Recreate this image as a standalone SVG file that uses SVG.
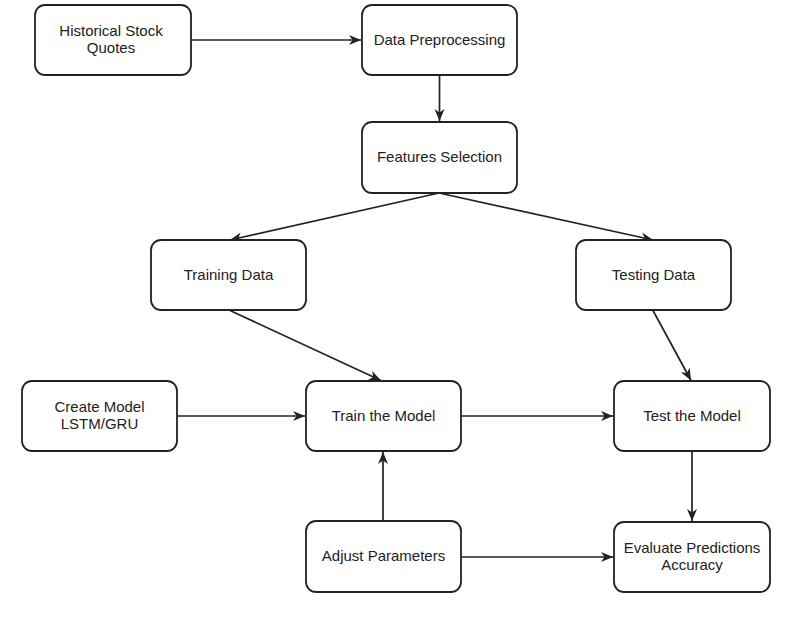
<svg xmlns="http://www.w3.org/2000/svg" width="795" height="621" viewBox="0 0 795 621">
<style>
.box{fill:#fff;stroke:#222;stroke-width:1.8}
.lbl{font-family:"Liberation Sans",Arial,sans-serif;font-size:15px;fill:#222;text-anchor:middle}
.edge{fill:none;stroke:#222;stroke-width:1.7}
</style>
<defs>
<marker id="arr" markerUnits="userSpaceOnUse" markerWidth="13" markerHeight="12" refX="12" refY="6" orient="auto">
<path d="M0,1 L12,6 L0,11 L3.5,6 Z" fill="#222"/>
</marker>
</defs>
<rect width="795" height="621" fill="#fff"/>
<g id="connectors">
<line class="edge" x1="191" y1="40" x2="361" y2="40" marker-end="url(#arr)"/>
<line class="edge" x1="439.5" y1="75" x2="439.5" y2="121" marker-end="url(#arr)"/>
<line class="edge" x1="439" y1="193" x2="230" y2="240" marker-end="url(#arr)"/>
<line class="edge" x1="439" y1="193" x2="653" y2="240" marker-end="url(#arr)"/>
<line class="edge" x1="230" y1="310.5" x2="381" y2="380.5" marker-end="url(#arr)"/>
<line class="edge" x1="653" y1="310.5" x2="691" y2="380.5" marker-end="url(#arr)"/>
<line class="edge" x1="177" y1="416" x2="305" y2="416" marker-end="url(#arr)"/>
<line class="edge" x1="461" y1="416" x2="613" y2="416" marker-end="url(#arr)"/>
<line class="edge" x1="383" y1="521" x2="383" y2="452" marker-end="url(#arr)"/>
<line class="edge" x1="461" y1="557" x2="613" y2="557" marker-end="url(#arr)"/>
<line class="edge" x1="692" y1="451" x2="692" y2="521" marker-end="url(#arr)"/>
</g>
<g id="historical">
<rect class="box" x="35" y="5" width="156" height="70" rx="10"/>
<text class="lbl" x="111" y="36">Historical Stock</text>
<text class="lbl" x="111" y="53">Quotes</text>
</g>
<g id="preprocessing">
<rect class="box" x="362" y="5" width="155" height="70" rx="10"/>
<text class="lbl" x="439.5" y="45">Data Preprocessing</text>
</g>
<g id="features">
<rect class="box" x="362" y="122" width="155" height="71" rx="10"/>
<text class="lbl" x="439.5" y="162">Features Selection</text>
</g>
<g id="training">
<rect class="box" x="151" y="240" width="155" height="70" rx="10"/>
<text class="lbl" x="228.5" y="280">Training Data</text>
</g>
<g id="testing">
<rect class="box" x="576" y="240" width="155" height="70" rx="10"/>
<text class="lbl" x="653.5" y="280">Testing Data</text>
</g>
<g id="create">
<rect class="box" x="22" y="381" width="155" height="70" rx="10"/>
<text class="lbl" x="99.5" y="412">Create Model</text>
<text class="lbl" x="99.5" y="429">LSTM/GRU</text>
</g>
<g id="train">
<rect class="box" x="306" y="381" width="155" height="70" rx="10"/>
<text class="lbl" x="383.5" y="421">Train the Model</text>
</g>
<g id="test">
<rect class="box" x="614" y="381" width="156" height="70" rx="10"/>
<text class="lbl" x="692" y="421">Test the Model</text>
</g>
<g id="adjust">
<rect class="box" x="306" y="521" width="155" height="71" rx="10"/>
<text class="lbl" x="383.5" y="561">Adjust Parameters</text>
</g>
<g id="evaluate">
<rect class="box" x="614" y="522" width="156" height="70" rx="10"/>
<text class="lbl" x="692" y="553">Evaluate Predictions</text>
<text class="lbl" x="692" y="570">Accuracy</text>
</g>
</svg>
